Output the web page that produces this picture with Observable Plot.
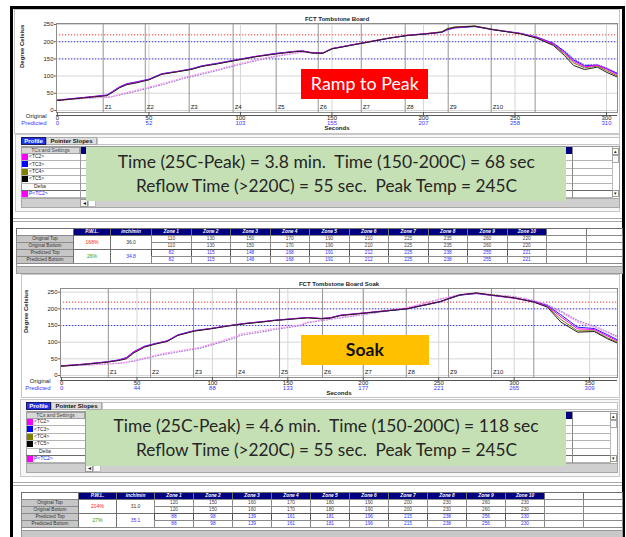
<!DOCTYPE html>
<html><head><meta charset="utf-8">
<script src="https://cdn.jsdelivr.net/npm/d3@7"></script>
<script src="https://cdn.jsdelivr.net/npm/@observablehq/plot@0.6"></script>
<style>
body{margin:0;background:#fff;width:626px;height:537px;overflow:hidden;position:relative;font-family:"Liberation Sans",Arial,sans-serif;}
#root{position:absolute;left:0;top:0;width:626px;height:537px;overflow:hidden;}
</style></head><body>
<div id="root"></div>
<script>
// ---------- data ----------
const chart1Title = "FCT Tombstone Board";
const chart2Title = "FCT Tombstone Board Soak";
const yTicks = [0, 50, 100, 150, 200, 250];
const origTicks1 = [0, 50, 100, 150, 200, 250, 300];
const predTicks1 = [0, 52, 103, 155, 207, 258, 310];
const origTicks2 = [0, 50, 100, 150, 200, 250, 300, 350];
const predTicks2 = [0, 44, 88, 133, 177, 221, 265, 309];
const zoneLabels = ["Z1","Z2","Z3","Z4","Z5","Z6","Z7","Z8","Z9","Z10"];
const zoneEdges1 = [25, 48, 72, 96, 119.5, 142.5, 166, 190, 213.5, 237, 261];
const zoneEdges2 = [31, 59, 87.5, 116, 144.5, 173, 200, 228.5, 256.5, 285, 313];
const limitRed = [220];
const limitBlue = [200, 150];

// chart 1 (Ramp to Peak) measured thermocouples
const t1 = [0,15,27,30,34,38,43,50,57,66,73,79,88,97,108,119,130,134,139,145,150,160,170,181,191,202,210,213,217,228,238,253,262,271,277,282,288,295,300,306];
const tc5_1 = [29,37,43,52,66,75,80,89,105,113,119,128,136,145,156,164,171,172,167,166,179,189,199,210,218,223,228,237,242,245,235,223,210,189,160,131,119,126,111,97];
const tc4_1 = [29,37,44,53,67,76,81,90,106,113,120,129,137,146,156,165,172,173,168,167,180,190,200,211,218,224,229,238,243,246,236,223,211,191,165,138,124,129,116,100];
const tc2_1 = [30,38,44,54,68,77,82,90,106,114,120,129,137,146,157,165,172,173,168,167,180,190,200,210,219,224,228,236,241,245,235,224,212,193,168,143,127,131,120,104];
const tc3_1 = [30,38,45,55,69,78,83,91,107,114,121,130,138,147,157,166,172,173,168,167,180,190,199,210,218,223,227,235,240,244,235,224,213,195,172,147,130,132,122,107];
// chart 1 predicted
const tp1 = [0,15,29,40,50,60,69,80,88,97,108,115,125,133,139,145,150,160,170,181,191,202,210,217,228,238,253,262,271,277,282,288,295,300,306];
const ptc2_1 = [29,36,40,55,68,82,96,110,120,133,147,155,163,170,168,167,179,189,199,210,218,223,228,241,245,235,224,212,194,170,146,130,132,122,106];
const ptc3_1 = [29,35,39,52,65,79,93,107,117,130,144,153,162,169,168,167,179,189,199,210,218,223,228,241,245,236,225,214,196,173,150,133,134,124,109];

// chart 2 (Soak) measured thermocouples
const t2 = [0,15,30,38,43,48,55,62,70,77,88,99,110,121,136,141,150,163,172,178,185,207,229,251,256,264,275,284,300,313,322,331,342,353,362,368];
const tc5_2 = [28,33,40,45,50,68,85,94,102,120,133,140,148,155,162,165,168,173,170,172,180,190,200,222,230,242,248,242,233,220,205,160,130,132,110,98];
const tc4_2 = [28,34,40,46,52,70,86,95,103,121,134,141,149,155,162,165,169,173,171,173,180,190,200,221,229,241,247,242,233,221,207,168,134,134,113,101];
const tc2_2 = [29,34,41,46,53,71,87,95,104,121,134,141,149,156,163,165,169,174,171,173,181,191,201,222,230,242,247,241,232,221,208,176,140,138,118,105];
const tc3_2 = [29,34,41,47,54,72,88,96,104,122,135,141,149,156,163,166,169,174,171,173,181,190,200,221,229,241,246,241,232,222,210,182,145,141,122,108];
// chart 2 predicted
const tp2 = [0,20,40,48,66,92,114,119,136,141,158,163,185,207,229,251,264,275,284,300,313,322,331,342,353,362,368];
const ptc2_2 = [28,33,38,45,65,85,115,125,137,141,152,160,175,188,203,230,243,247,243,236,224,210,190,160,145,128,115];
const ptc3_2 = [28,32,37,43,62,82,111,121,133,138,149,158,173,187,203,229,242,246,243,237,225,212,193,165,148,131,118];

// list / tables
const listItems = ["<TC2>","<TC3>","<TC4>","<TC5>","Delta","P<TC2>"];
const listColors = ["#ff00ff","#0000ff","#808000","#000000",null,"#ff00ff"];
const rowLabels = ["Original Top","Original Bottom","Predicted Top","Predicted Bottom"];
const zoneHeaders = ["Zone 1","Zone 2","Zone 3","Zone 4","Zone 5","Zone 6","Zone 7","Zone 8","Zone 9","Zone 10"];
const pwl1 = ["168%","26%"], inch1 = ["36.0","34.8"];
const orig1 = [110,130,150,170,190,210,225,235,260,220];
const pred1 = [82,115,148,168,191,212,225,238,255,221];
const pwl2 = ["204%","27%"], inch2 = ["31.0","35.1"];
const orig2 = [120,150,160,170,180,190,200,230,260,230];
const pred2 = [88,98,139,161,181,196,215,238,256,230];
const box1Lines = ["Time (25C-Peak) = 3.8 min.  Time (150-200C) = 68 sec", "Reflow Time (>220C) = 55 sec.  Peak Temp = 245C"];
const box2Lines = ["Time (25C-Peak) = 4.6 min.  Time (150-200C) = 118 sec", "Reflow Time (>220C) = 55 sec.  Peak Temp = 245C"];

// ---------- helpers ----------
const root = document.getElementById("root");
const SANS = "'Liberation Sans',Arial,sans-serif";
function div(x, y, w, h, css, text) {
  const d = document.createElement("div");
  d.style.cssText = `position:absolute;left:${x}px;top:${y}px;width:${w}px;height:${h}px;box-sizing:border-box;overflow:hidden;` + (css || "");
  if (text != null) d.textContent = text;
  root.appendChild(d);
  return d;
}
function fitText(x, cy, w, text, css, targetW) {
  const d = div(x, cy - 13, w, 26, `display:flex;align-items:center;justify-content:center;overflow:visible;${css}`);
  const s = document.createElement("span");
  s.textContent = text;
  s.style.cssText = "display:inline-block;white-space:pre;";
  d.appendChild(s);
  const cw = s.getBoundingClientRect().width;
  if (targetW && cw > 0) s.style.transform = `scaleX(${targetW / cw})`;
  return d;
}

function chart(c) {
  const mk = (times, vals) => times.map((t, i) => ({t, v: vals[i]}));
  const predMarks = c.pred.map(s => Plot.line(mk(c.ptimes, s.values), {x: "t", y: "v", stroke: s.color, strokeWidth: 1.1, strokeDasharray: "0.9,1.8"}));
  const solidMarks = c.series.map(s => Plot.line(mk(c.times, s.values), {x: "t", y: "v", stroke: s.color, strokeWidth: 1}));
  const svg = Plot.plot({
    width: c.w, height: c.h,
    marginLeft: c.ml, marginRight: c.mr, marginTop: c.mt, marginBottom: c.mb,
    x: {domain: c.xDomain, axis: null},
    y: {domain: c.yDomain, axis: null},
    style: {background: "transparent", fontFamily: SANS, fontSize: "6px", overflow: "visible", color: "#222"},
    marks: [
      Plot.gridY(yTicks, {stroke: "#d6d6d6", strokeOpacity: 1}),
      Plot.gridX(c.origTicks.slice(1), {stroke: "#d6d6d6", strokeOpacity: 1}),
      Plot.ruleX(c.zones, {stroke: "#949494"}),
      Plot.ruleY(limitRed, {stroke: "#ff3030", strokeDasharray: "1.2,1.8"}),
      Plot.ruleY(limitBlue, {stroke: "#3a3aff", strokeDasharray: "1.2,1.8"}),
      ...predMarks,
      ...solidMarks,
      Plot.frame({stroke: "#8c8c8c"}),
      Plot.axisY({ticks: yTicks, tickSize: 2, tickPadding: 1, fontSize: 6, label: null, anchor: "left", stroke: "#666"}),
      Plot.ruleY([c.yDomain[0]], {dy: 3, stroke: "#555"}),
      Plot.axisX({ticks: c.origTicks, anchor: "bottom", tickSize: 3, tickPadding: 0, fontSize: 6, label: null, stroke: "#555"}),
      Plot.text(c.origTicks, {x: d => d, text: (d, i) => String(c.predTicks[i]), frameAnchor: "bottom", dy: 12, fill: "#3a3aff", fontSize: 6}),
      Plot.text(["Original"], {text: d => d, frameAnchor: "bottom-left", dx: -10, dy: 5.5, textAnchor: "end", fontSize: 6}),
      Plot.text(["Predicted"], {text: d => d, frameAnchor: "bottom-left", dx: -10, dy: 12, textAnchor: "end", fontSize: 6, fill: "#3a3aff"}),
      Plot.text(["Seconds"], {text: d => d, frameAnchor: "bottom", dy: 17, fontSize: 6, fontWeight: "bold"}),
      Plot.text([c.title], {text: d => d, frameAnchor: "top", dy: -7, fontSize: 6, fontWeight: "bold"}),
      Plot.text(["Degree Celsius"], {text: d => d, frameAnchor: "left", dx: -34, rotate: -90, fontSize: 6, fontWeight: "bold"}),
      Plot.text(zoneLabels, {x: (d, i) => c.zones[i], text: d => d, frameAnchor: "bottom", dx: 1.5, dy: -3.5, textAnchor: "start", fontSize: 6})
    ]
  });
  svg.style.position = "absolute";
  svg.style.left = c.left + "px";
  svg.style.top = c.top + "px";
  root.appendChild(svg);
}

function listPanel(L, T, R, greenX, greenY, greenW, greenH, lines, targets) {
  const f = `font-family:${SANS};`;
  div(L, T - 9, 25, 8, `${f}background:#1f34e8;border:1px solid #1a1a60;color:#fff;font-weight:bold;font-size:6px;text-align:center;line-height:6px;`, "Profile");
  div(L + 25, T - 9, 51, 8, `${f}background:#dedede;border:1px solid #aaa;color:#111;font-weight:bold;font-size:6px;text-align:center;line-height:6px;`, "Pointer Slopes");
  div(L + 76, T - 9, R - (L + 76), 8, "background:#fff;border:1px solid #c4c4c4;");
  div(L, T, R - L, 62, "background:#fff;border:1px solid #9a9a9a;");
  div(L, T + 1, 59, 7, `${f}background:#d8d8d8;border:1px solid #a0a0a0;color:#444;font-size:5px;text-align:center;line-height:5px;`, "TCs and Settings");
  div(L + 59, T + 1, 6, 7, "background:#000080;");
  listItems.forEach((name, k) => {
    const cy = T + 10.7 + 7.4 * k;
    if (listColors[k]) div(L + 0.5, cy - 3, 6, 6, `background:${listColors[k]};`);
    div(L + (name === "Delta" ? 13 : 8), cy - 3.5, 50, 7, `${f}font-size:5px;line-height:7px;color:${k === 5 ? "#2020ff" : "#222"};`, name);
    div(L, cy + 3.6, R - 8 - L, k === 4 ? 1.5 : 1, `background:${k === 4 ? "#6a6a6a" : "#b4b4b4"};`);
  });
  div(L + 59, T + 1, 1, 51, "background:#9a9a9a;");
  div(L, T + 52, R - L, 10, "background:#cfcfcf;border:1px solid #a8a8a8;");
  div(L + 59, T + 53, 8, 8, `${f}background:#f6f6f6;border:1px solid #999;font-size:6px;line-height:6px;text-align:center;color:#222;`, "◂");
  div(L + 67, T + 53, 8, 8, "background:#fff;border:1px solid #bbb;");
  div(R - 8, T + 1, 7, 51, "background:#fff;border-left:1px solid #bbb;");
  div(R - 8, T + 2, 7, 7, `${f}border:1px solid #999;font-size:5px;text-align:center;line-height:5px;color:#222;`, "▴");
  div(R - 8, T + 9, 7, 8, "border:1px solid #aaa;background:#fafafa;");
  div(R - 8, T + 44, 7, 7, `${f}border:1px solid #999;font-size:5px;text-align:center;line-height:5px;color:#222;`, "▾");
  div(greenX, greenY, greenW, greenH, "background:#c5e0b4;");
  div(greenX + greenW, T + 1, 6, 7, "background:#000080;");
  div(greenX + greenW + 6, T + 1, 1, 51, "background:#8a8a8a;");
  lines.forEach((txt, i) => {
    fitText(greenX, greenY + 15 + 24 * i + (greenH - 54) / 2, greenW, txt, "font-family:Lato,'Open Sans',sans-serif;font-size:16.5px;color:#262626;", targets[i]);
  });
}

function table(x0, y0, widths, pwl, inch, orig, pred) {
  const hh = 7, rh = 7;
  const xs = [x0];
  widths.forEach(w => xs.push(xs[xs.length - 1] + w));
  const f = `font-family:${SANS};`;
  const headers = ["", "P.W.L.", "inch/min", ...zoneHeaders, "", ""];
  headers.forEach((h, j) => {
    const navy = j > 0 && j < 13;
    div(xs[j], y0, widths[j] + 1, hh + 1, `${f}border:1px solid #707070;background:${navy ? "#000080" : "#fff"};color:#fff;font-style:italic;font-weight:bold;font-size:4.8px;text-align:center;line-height:${hh - 1}px;`, h);
  });
  rowLabels.forEach((r, k) => {
    div(xs[0], y0 + hh + k * rh, widths[0] + 1, rh + 1, `${f}border:1px solid #8a8a8a;background:#c6c6c6;color:#333;font-size:4.8px;text-align:center;line-height:${rh - 1}px;`, r);
  });
  [0, 1].forEach(g => {
    div(xs[1], y0 + hh + 2 * g * rh, widths[1] + 1, 2 * rh + 1, `${f}border:1px solid #707070;background:#fff;color:${g ? "#20a020" : "#ff2020"};font-size:5px;text-align:center;line-height:${2 * rh - 1}px;`, pwl[g]);
    div(xs[2], y0 + hh + 2 * g * rh, widths[2] + 1, 2 * rh + 1, `${f}border:1px solid #707070;background:#fff;color:${g ? "#3030ff" : "#333"};font-size:5px;text-align:center;line-height:${2 * rh - 1}px;`, inch[g]);
  });
  for (let z = 0; z < 10; z++) {
    for (let k = 0; k < 4; k++) {
      const v = k < 2 ? orig[z] : pred[z];
      div(xs[3 + z], y0 + hh + k * rh, widths[3 + z] + 1, rh + 1, `${f}border:1px solid ${k === 2 ? "#555" : "#8a8a8a"};background:#fff;color:${k < 2 ? "#444" : "#3030ff"};font-size:4.8px;text-align:center;line-height:${rh - 1}px;`, String(v));
    }
  }
  [13, 14].forEach(j => {
    for (let k = 0; k < 4; k++) div(xs[j], y0 + hh + k * rh, widths[j] + 1, rh + 1, "border:1px solid #8a8a8a;background:#fff;");
  });
  const total = xs[xs.length - 1] - x0;
  div(x0, y0 + hh + 4 * rh, total + 1, 4, "border:1px solid #8a8a8a;background:#fff;");
  div(x0, y0 + hh + 4 * rh + 3, total + 1, 8, "background:#c8c8c8;border:1px solid #9a9a9a;");
}

// ---------- layout ----------
div(10, 6, 615, 545, "border-top:3px solid #000;border-left:3px solid #000;border-right:3px solid #000;");

div(14, 9, 606, 125, "background:#fff;border:1px solid #c6c6c6;");
chart({
  left: 14, top: 9, w: 606, h: 126, ml: 42, mr: 3, mt: 14, mb: 23,
  xDomain: [-0.5, 306], yDomain: [-6, 253], title: chart1Title,
  origTicks: origTicks1, predTicks: predTicks1, zones: zoneEdges1,
  times: t1, ptimes: tp1,
  series: [{values: tc4_1, color: "#808000"}, {values: tc3_1, color: "#2020ff"}, {values: tc2_1, color: "#ff00ff"}, {values: tc5_1, color: "#222"}],
  pred: [{values: ptc3_1, color: "#9a78d8"}, {values: ptc2_1, color: "#ff90f0"}]
});
div(301, 69, 127, 30, "background:#ff0000;");
fitText(301, 84, 127, "Ramp to Peak", "font-family:Lato,'Open Sans',sans-serif;font-size:16.5px;color:#fff;", 108);

div(15, 134, 605, 78, "background:#f7f7f7;border:1px solid #c8c8c8;");
listPanel(21, 146, 620, 86, 147, 480, 54, box1Lines, [417, 381]);

div(13, 218, 609, 1, "background:#a8a8a8;");
div(13, 221, 609, 1, "background:#a8a8a8;");

table(16, 228, [57, 37, 41, 39.5, 39.5, 39.5, 39.5, 39.5, 39.5, 39.5, 39.5, 39.5, 39.5, 40, 36], pwl1, inch1, orig1, pred1);

div(21, 274, 599, 124, "background:#fff;border:1px solid #c6c6c6;");
chart({
  left: 21, top: 274, w: 600, h: 124, ml: 39, mr: 4, mt: 14, mb: 21,
  xDomain: [-0.7, 368.5], yDomain: [-6, 261], title: chart2Title,
  origTicks: origTicks2, predTicks: predTicks2, zones: zoneEdges2,
  times: t2, ptimes: tp2,
  series: [{values: tc4_2, color: "#808000"}, {values: tc3_2, color: "#2020ff"}, {values: tc2_2, color: "#ff00ff"}, {values: tc5_2, color: "#222"}],
  pred: [{values: ptc3_2, color: "#9a78d8"}, {values: ptc2_2, color: "#ff90f0"}]
});
div(301, 335, 128, 30, "background:#ffc000;");
fitText(301, 350, 128, "Soak", "font-family:Lato,'Open Sans',sans-serif;font-weight:bold;font-size:16.5px;color:#111;", 38);

div(20, 399, 600, 78, "background:#f7f7f7;border:1px solid #c8c8c8;");
listPanel(26, 411, 618, 86, 410, 480, 56, box2Lines, [425, 381]);

div(13, 482, 609, 1, "background:#a8a8a8;");
div(13, 485, 609, 1, "background:#a8a8a8;");

table(21, 492, [57, 38, 38, 39, 39, 39, 39, 39, 39, 39, 39, 39, 39, 39, 39], pwl2, inch2, orig2, pred2);
</script></body></html>
